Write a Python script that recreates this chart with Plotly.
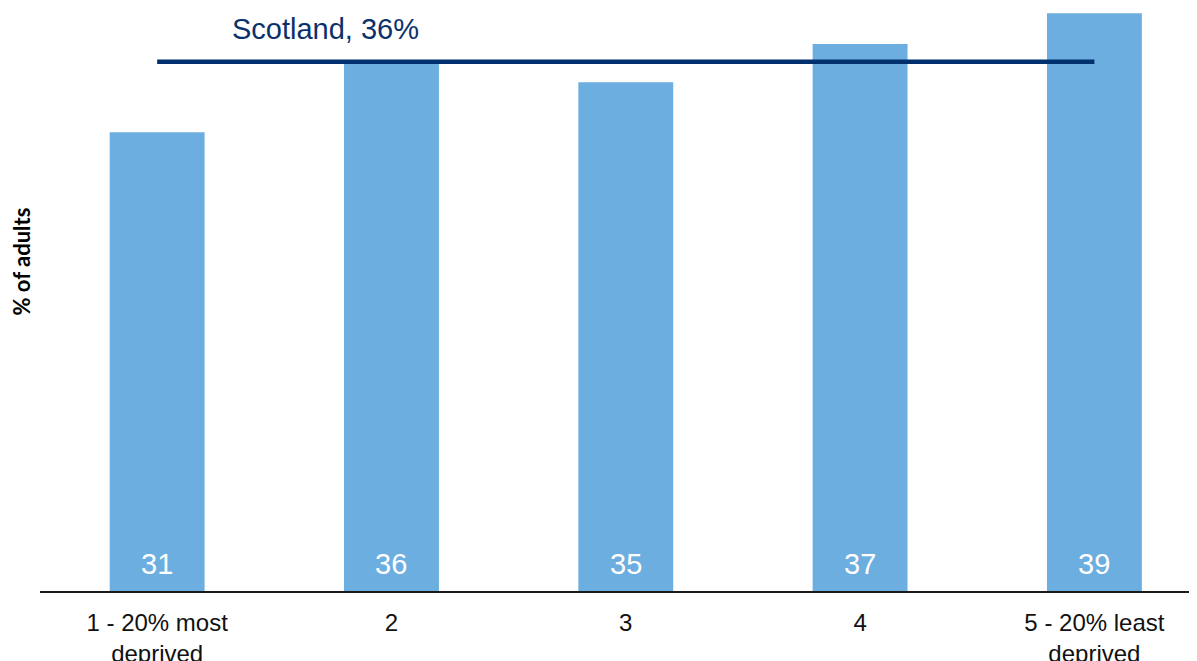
import plotly.graph_objects as go

categories = ["1 - 20% most<br>deprived", "2", "3", "4", "5 - 20% least<br>deprived"]
values = [31.2, 36.0, 34.6, 37.2, 39.3]
labels = ["31", "36", "35", "37", "39"]
scotland_value = 36
scotland_label = "Scotland, 36%"

x_idx = list(range(len(categories)))

fig = go.Figure()
fig.add_trace(go.Bar(
    x=x_idx, y=values,
    marker=dict(color="#6caee0", line=dict(width=0)),
    width=0.405, hoverinfo="skip",
))
for xi, lab in zip(x_idx, labels):
    fig.add_annotation(
        x=xi, y=0, xref="x", yref="y", text=lab, showarrow=False,
        yshift=27, xanchor="center", yanchor="middle",
        font=dict(family="Liberation Sans, Arial", size=29, color="white"),
    )
fig.add_trace(go.Scatter(
    x=[x_idx[0], x_idx[-1]], y=[scotland_value, scotland_value],
    mode="lines", line=dict(color="#00306e", width=4.5),
    hoverinfo="skip",
))
fig.add_annotation(
    x=0.72, y=38.25, xref="x", yref="y", text=scotland_label, showarrow=False,
    font=dict(family="Liberation Sans, Arial", size=29, color="#0b316c"),
    xanchor="center", yanchor="middle",
)
fig.add_annotation(
    x=-0.0155, y=0.567, xref="paper", yref="paper", text="<b>% of adults</b>",
    showarrow=False, textangle=-90,
    font=dict(family="Lato, Open Sans, sans-serif", size=22, color="black"),
    xanchor="center", yanchor="middle",
)

fig.update_layout(
    width=1197, height=661,
    margin=dict(l=32, r=0, t=2, b=78),
    paper_bgcolor="white", plot_bgcolor="white",
    showlegend=False,
    xaxis=dict(
        tickmode="array", tickvals=x_idx, ticktext=categories,
        range=[-0.5, 4.472], showgrid=False, zeroline=False,
        showline=True, linecolor="#1a1a1a", linewidth=1.5,
        ticks="outside", ticklen=9, tickcolor="rgba(0,0,0,0)",
        tickfont=dict(family="Liberation Sans, Arial", size=24, color="#111111"),
    ),
    yaxis=dict(
        range=[0, 39.52], showgrid=False, zeroline=False, showline=False,
        showticklabels=False, ticks="",
    ),
)

fig.write_html("out.html")
